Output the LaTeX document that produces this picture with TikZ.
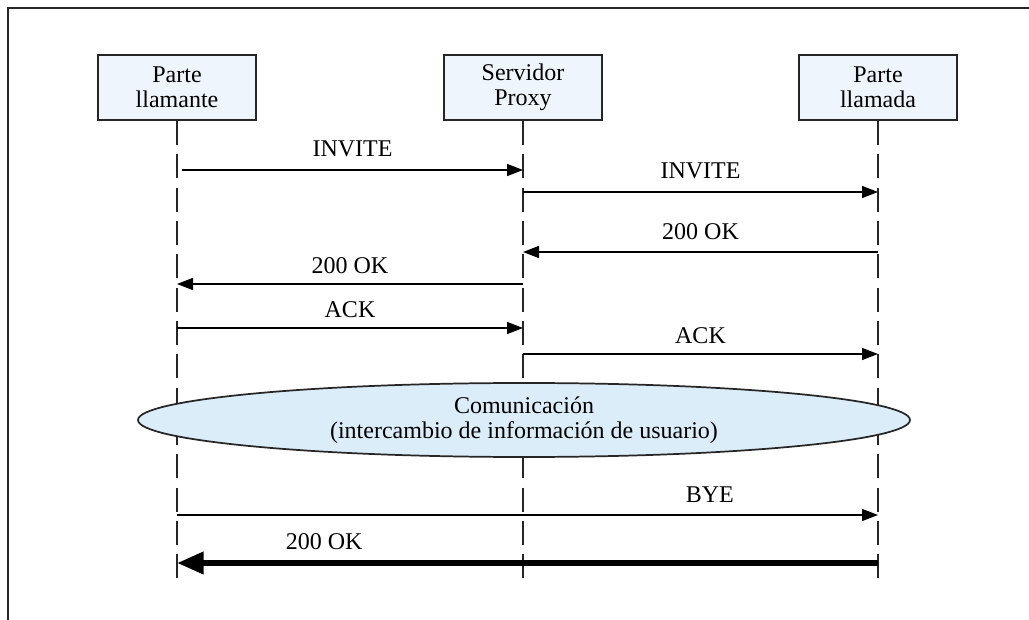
\documentclass[tikz,border=0pt]{standalone}
\usepackage{fontspec}
\setmainfont{Liberation Serif}
\usepackage{tikz}
\usetikzlibrary{arrows.meta,shapes.geometric,calc}
\definecolor{boxfill}{HTML}{EEF5FC}
\definecolor{talkfill}{HTML}{DCEDFA}

\begin{document}
\begin{tikzpicture}[x=0.75pt,y=-0.75pt,
  font=\fontsize{18}{19}\selectfont,
  party/.style={draw=black!85, line width=1.6pt, fill=boxfill, align=center,
    minimum width=118.5pt, minimum height=48.75pt, inner sep=2pt},
  lifeline/.style={black!85, line width=1.1pt, dash pattern=on 18pt off 7pt},
  msg/.style={black, line width=1.1pt, -{Triangle[length=12pt,width=9pt]}},
  bigmsg/.style={black, line width=4.5pt, -{Triangle[length=20pt,width=16pt]}},
  lbl/.style={above, inner sep=9pt}]
\useasboundingbox (0,0) rectangle (1029,620);
\draw[black!85, line width=1.5pt] (8,620) -- (8,8) -- (1029,8);
\node[party] (caller) at (177,87.5) {Parte\\llamante};
\node[party] (proxy) at (523,87.5) {Servidor\\Proxy};
\node[party] (callee) at (878,87.5) {Parte\\llamada};
\draw[lifeline] (caller.south) -- (caller |- 0,585);
\draw[lifeline] (proxy.south) -- (proxy |- 0,585);
\draw[lifeline] (callee.south) -- (callee |- 0,585);
\draw[msg] ($(caller |- 0,170)+(5,0)$) -- node[lbl] {INVITE} (proxy |- 0,170);
\draw[msg] (proxy |- 0,192) -- node[lbl] {INVITE} (callee |- 0,192);
\draw[msg] (callee |- 0,252) -- node[lbl] {200 OK} (proxy |- 0,252);
\draw[msg] (proxy |- 0,284) -- node[lbl, inner sep=7pt] {200 OK} (caller |- 0,284);
\draw[msg] (caller |- 0,328) -- node[lbl, inner sep=7pt] {ACK} (proxy |- 0,328);
\draw[msg] (proxy |- 0,354) -- node[lbl, inner sep=7pt] {ACK} (callee |- 0,354);
\node[ellipse, draw=black!85, line width=1.3pt, fill=talkfill, align=center,
  minimum width=579pt, minimum height=55.5pt, inner sep=0pt] (talk) at (524,420)
  {Comunicación\\(intercambio de información de usuario)};
\draw[msg] (caller |- 0,515) -- node[lbl, pos=0.76] {BYE} (callee |- 0,515);
\draw[bigmsg] (callee |- 0,563) -- node[lbl, pos=0.79, inner sep=8pt] {200 OK} (caller |- 0,563);
\end{tikzpicture}
\end{document}
